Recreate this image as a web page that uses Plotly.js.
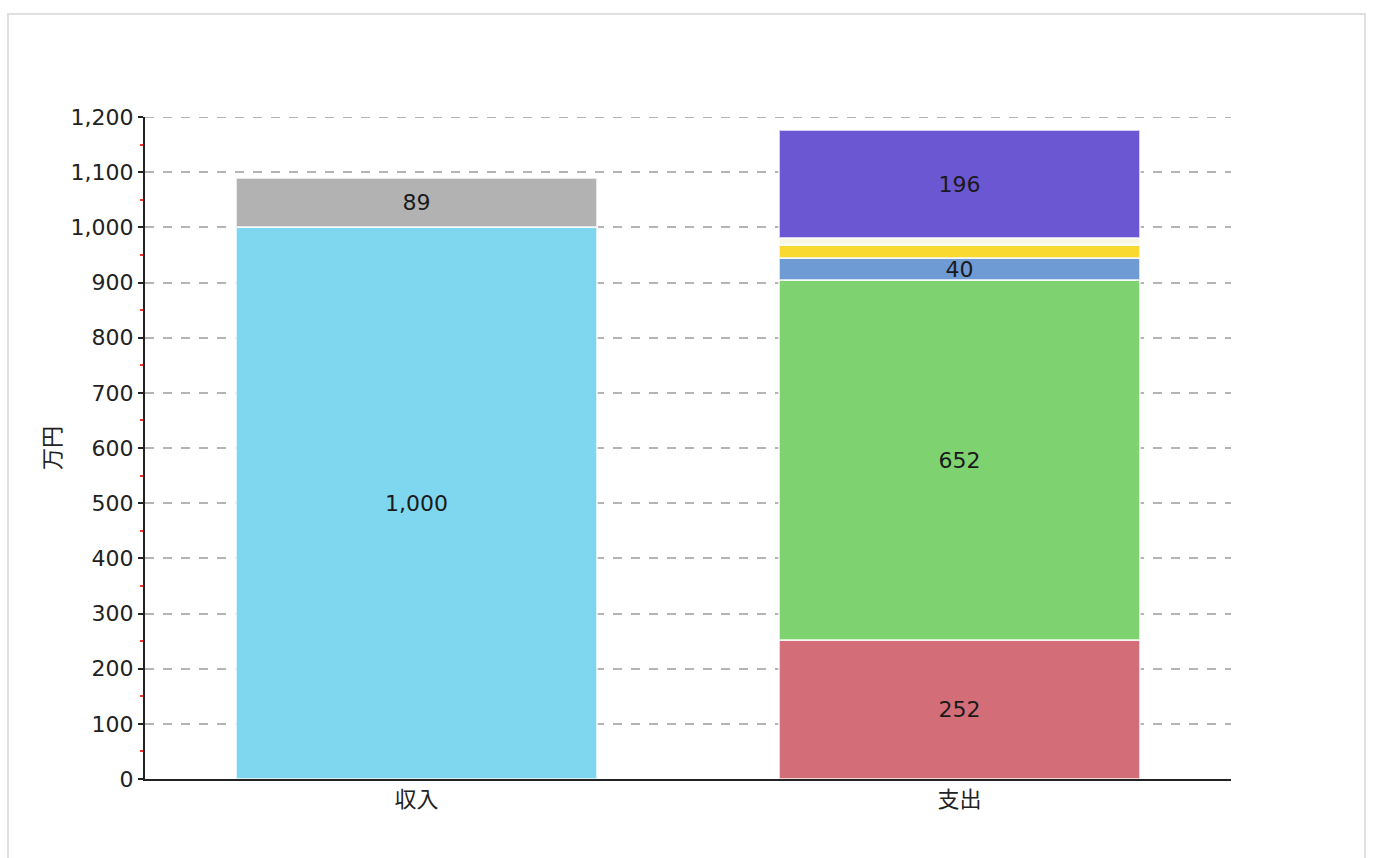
<!DOCTYPE html>
<html>
<head>
<meta charset="utf-8">
<script src="https://cdn.plot.ly/plotly-3.0.1.min.js"></script>
<style>
  html, body { margin: 0; padding: 0; background: #fff; }
  #card { position: absolute; left: 7px; top: 13px; width: 1359px; height: 860px; border: 2px solid #e0e0e0; box-sizing: border-box; }
  #chart { position: absolute; left: 0; top: 0; width: 1373px; height: 858px; }
</style>
</head>
<body>
<div id="card"></div>
<div id="chart"></div>
<script>
// Data
const categories = ['収入', '支出'];
const incomeValues = [1000, 89];
const incomeColors = ['#7fd7ef', '#b2b2b2'];
const incomeShowLabel = [true, true];
const expenseValues = [252, 652, 40, 24, 12, 196];
const expenseColors = ['#d36e78', '#7ed370', '#6e9bd3', '#f9d82f', '#f8f7e4', '#6c57d3'];
const expenseShowLabel = [true, true, true, false, false, true];
const yTickVals = [0, 100, 200, 300, 400, 500, 600, 700, 800, 900, 1000, 1100, 1200];
const yAxisTitle = '万円';

const traces = [];
function addSeries(cat, values, colors, show) {
  values.forEach((v, i) => {
    traces.push({
      type: 'bar',
      x: [cat],
      y: [v],
      marker: { color: colors[i], line: { color: 'rgba(255,255,255,0.7)', width: 2 } },
      texttemplate: show[i] ? '%{y:,}' : '',
      textposition: 'inside',
      insidetextanchor: 'middle',
      textfont: { family: 'DejaVu Sans, Verdana, sans-serif', size: 22, color: '#1a1a1a' },
      hoverinfo: 'skip',
      showlegend: false
    });
  });
}
addSeries(categories[0], incomeValues, incomeColors, incomeShowLabel);
addSeries(categories[1], expenseValues, expenseColors, expenseShowLabel);

const layout = {
  width: 1373,
  height: 858,
  margin: { l: 145, r: 142, t: 117, b: 79 },
  paper_bgcolor: 'rgba(0,0,0,0)',
  plot_bgcolor: 'rgba(0,0,0,0)',
  barmode: 'stack',
  bargap: 0.335,
  uniformtext: { minsize: 22, mode: 'show' },
  font: { family: 'DejaVu Sans, Verdana, sans-serif', size: 22, color: '#222' },
  xaxis: {
    type: 'category',
    categoryorder: 'array',
    categoryarray: categories,
    range: [-0.5, 1.5],
    showline: true,
    linecolor: '#222',
    linewidth: 2,
    ticks: '',
    showgrid: false,
    tickfont: { family: 'Noto Sans CJK JP, sans-serif', size: 22, color: '#222' },
    zeroline: false
  },
  yaxis: {
    range: [0, 1200],
    tickvals: yTickVals,
    tickformat: ',',
    showline: true,
    linecolor: '#222',
    linewidth: 2,
    ticks: 'outside',
    ticklen: 5,
    tickwidth: 2,
    tickcolor: '#222',
    showgrid: true,
    gridcolor: '#b4b4b4',
    griddash: 'dash',
    gridwidth: 2,
    zeroline: false,
    tickfont: { family: 'DejaVu Sans, Verdana, sans-serif', size: 22, color: '#222' },
    minor: { dtick: 50, ticks: 'outside', ticklen: 3, tickwidth: 2, tickcolor: '#ff3030', showgrid: false },
    title: { text: yAxisTitle, standoff: 4, font: { family: 'Noto Sans CJK JP, sans-serif', size: 22, color: '#222' } }
  },
  shapes: [{
    type: 'line', xref: 'paper', yref: 'y', x0: 0, x1: 1,
    y0: yTickVals[yTickVals.length - 1], y1: yTickVals[yTickVals.length - 1],
    line: { color: '#b4b4b4', width: 2, dash: 'dash' }, layer: 'below'
  }]
};

Plotly.newPlot('chart', traces, layout, { displayModeBar: false, staticPlot: true });
</script>
</body>
</html>
